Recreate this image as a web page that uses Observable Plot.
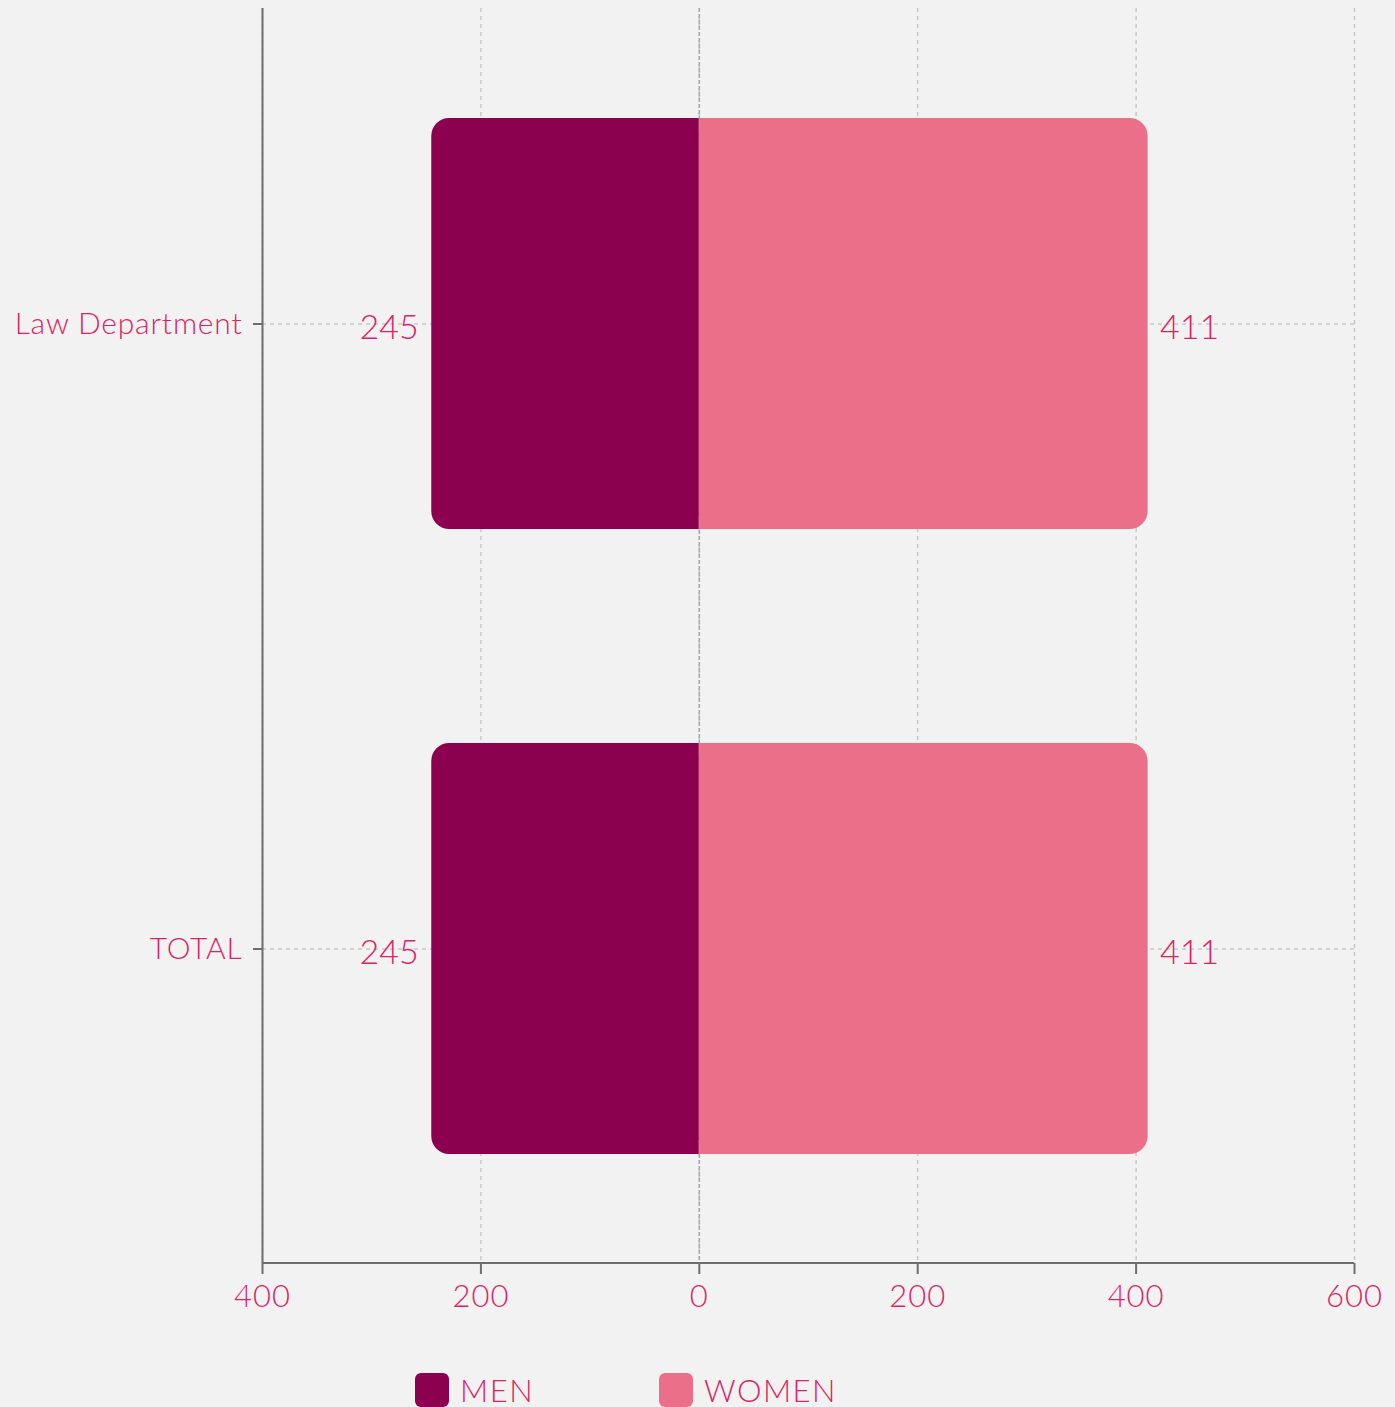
<!DOCTYPE html>
<html>
<head>
<meta charset="utf-8">
<script src="https://cdn.jsdelivr.net/npm/d3@7"></script>
<script src="https://cdn.jsdelivr.net/npm/@observablehq/plot@0.6"></script>
<style>
  html, body { margin: 0; padding: 0; background: #f2f2f2; }
  #chart { width: 1395px; }
  #chart svg { display: block; }
  .legend { display: flex; padding-left: 415px; margin-top: 43px; font-family: Lato, "Open Sans", sans-serif; font-weight: 300; font-size: 31px; letter-spacing: 1.5px; color: #dc2462; line-height: 34px; }
  .item { display: flex; align-items: center; width: 244px; }
  .sw { width: 34px; height: 34px; border-radius: 6px; margin-right: 11px; flex: none; }
</style>
</head>
<body>
<div id="chart"></div>
<div class="legend" id="legend"></div>
<script>
const categories = ["Law Department", "TOTAL"];
const men = [245, 245];
const women = [411, 411];
const xTicks = [-400, -200, 0, 200, 400, 600];
const seriesNames = ["MEN", "WOMEN"];
const seriesColors = ["#8b004f", "#ec6f89"];
const textColor = "#dc2462";
const axisColor = "#6e6e6e";

const rows = categories.map((c, i) => ({cat: c, men: men[i], women: women[i]}));
const font = 'Lato, "Open Sans", sans-serif';

const W = 1395, H = 1330, mL = 262, mR = 41, mT = 8, mB = 67;

const plot = Plot.plot({
  width: W,
  height: H,
  marginLeft: mL,
  marginRight: mR,
  marginTop: mT,
  marginBottom: mB,
  style: {background: "#f2f2f2", fontFamily: font, fontWeight: 300},
  x: {type: "linear", domain: [-400, 600]},
  y: {type: "band", domain: categories, paddingInner: 0.343, paddingOuter: 0.174},
  marks: [
    Plot.ruleX(xTicks, {stroke: "#c8c8c8", strokeDasharray: "4,4", strokeWidth: 1.5}),
    Plot.ruleX([0], {stroke: "#a8a8a8", strokeDasharray: "4,2", strokeWidth: 1.5}),
    Plot.gridY({stroke: "#c8c8c8", strokeOpacity: 1, strokeDasharray: "4,4", strokeWidth: 1.5}),
    Plot.rect(rows, {y: "cat", x1: d => -d.men, x2: 0, fill: seriesColors[0], rx: 18}),
    Plot.rect(rows, {y: "cat", x1: d => -d.men / 2, x2: 0, fill: seriesColors[0]}),
    Plot.rect(rows, {y: "cat", x1: 0, x2: d => d.women, fill: seriesColors[1], rx: 18}),
    Plot.rect(rows, {y: "cat", x1: 0, x2: d => d.women / 2, fill: seriesColors[1]}),
    Plot.text(rows, {y: "cat", x: d => -d.men, text: d => String(d.men), dx: -13, dy: 4, textAnchor: "end", fill: textColor, fontSize: 34, fontFamily: font, fontWeight: 300}),
    Plot.text(rows, {y: "cat", x: d => d.women, text: d => String(d.women), dx: 12, dy: 4, textAnchor: "start", fill: textColor, fontSize: 34, fontFamily: font, fontWeight: 300}),
    Plot.ruleX([xTicks[0]], {stroke: axisColor, strokeWidth: 2}),
    Plot.axisX({ticks: xTicks, tickFormat: d => String(Math.abs(d)), tickSize: 11, tickPadding: 10, fontSize: 31, color: textColor, stroke: axisColor, strokeWidth: 2, label: null}),
    Plot.axisY({tickSize: 9, tickPadding: 11, fontSize: 30, color: textColor, stroke: axisColor, strokeWidth: 2, label: null})
  ]
});

// bottom axis baseline, placed with the plot's own x scale
const xs = plot.scale("x");
d3.select(plot).append("line")
  .attr("x1", xs.apply(xs.domain[0])).attr("x2", xs.apply(xs.domain[1]))
  .attr("y1", H - mB).attr("y2", H - mB)
  .attr("stroke", axisColor).attr("stroke-width", 2);
d3.select(plot).selectAll('g[aria-label="y-axis tick label"] text').style("letter-spacing", "0.8px");
d3.select(plot).selectAll('g[aria-label="x-axis tick label"] text').style("letter-spacing", "1px");

document.getElementById("chart").appendChild(plot);

const legend = document.getElementById("legend");
seriesNames.forEach((name, i) => {
  const item = document.createElement("div");
  item.className = "item";
  const sw = document.createElement("div");
  sw.className = "sw";
  sw.style.background = seriesColors[i];
  const label = document.createElement("span");
  label.textContent = name;
  item.appendChild(sw);
  item.appendChild(label);
  legend.appendChild(item);
});
</script>
</body>
</html>
